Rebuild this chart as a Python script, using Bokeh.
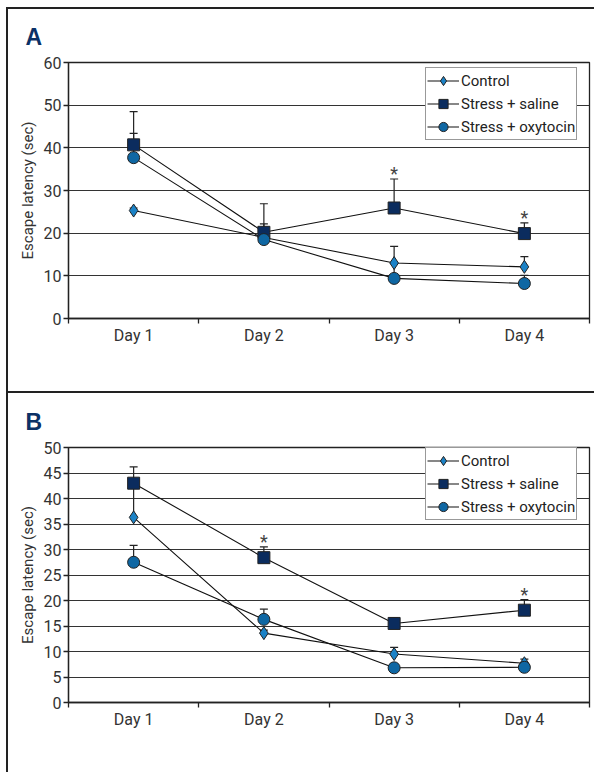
from bokeh.plotting import figure
from bokeh.models import (FixedTicker, Range1d, Legend, LegendItem, Whisker,
                          TeeHead, ColumnDataSource)
from bokeh.layouts import column
from bokeh.embed import file_html
from bokeh.resources import INLINE
from bokeh.core.properties import value

# ---------------- data ----------------
days = ["Day 1", "Day 2", "Day 3", "Day 4"]
series_names = ["Control", "Stress + saline", "Stress + oxytocin"]

# Panel A
control_A = [25.3, 19.0, 13.0, 12.1]
control_A_err = [0.6, 1.2, 3.9, 2.4]
saline_A = [40.7, 20.2, 25.9, 19.9]
saline_A_err = [7.8, 6.7, 6.8, 2.5]
oxytocin_A = [37.7, 18.5, 9.4, 8.2]
oxytocin_A_err = [5.7, 3.7, 3.5, 1.9]
signif_A = ["Day 3", "Day 4"]
yticks_A = [0, 10, 20, 30, 40, 50, 60]

# Panel B
control_B = [36.3, 13.6, 9.5, 7.7]
control_B_err = [6.4, 0.6, 1.3, 0.8]
saline_B = [43.0, 28.4, 15.5, 18.1]
saline_B_err = [3.2, 2.1, 1.1, 2.1]
oxytocin_B = [27.5, 16.3, 6.8, 6.9]
oxytocin_B_err = [3.3, 2.0, 0.5, 0.6]
signif_B = ["Day 2", "Day 4"]
yticks_B = [0, 5, 10, 15, 20, 25, 30, 35, 40, 45, 50]

# ---------------- style ----------------
FONT = "Roboto"
DARK = "#222222"
COLORS = ["#1b82c6", "#0b2c5e", "#0f67a3"]
MARKERS = ["diamond", "square", "circle"]
SIZES = [13, 12, 12]
W = 594


def make_panel(letter, ctrl, ctrl_e, sal, sal_e, oxy, oxy_e, signif, yticks,
               height, top, bottom, legend_loc, shadow, title_standoff):
    xs = list(range(1, len(days) + 1))
    p = figure(width=W, height=height, output_backend="svg", toolbar_location=None,
               x_range=Range1d(0.5, len(days) + 0.5),
               y_range=Range1d(yticks[0], yticks[-1]),
               min_border_left=68, min_border_right=5,
               min_border_top=top, min_border_bottom=bottom)
    p.border_fill_color = None
    p.background_fill_color = "white"
    p.outline_line_color = DARK
    p.outline_line_width = 1.3
    p.styles = {"box-shadow": shadow}

    p.title.text = letter
    p.title.text_font = "Liberation Sans"
    p.title.text_font_size = "23px"
    p.title.text_font_style = "bold"
    p.title.text_color = "#0b3166"
    p.title.align = "left"
    p.title.offset = -43
    p.title.standoff = title_standoff

    # axes
    p.xaxis.ticker = FixedTicker(ticks=xs, minor_ticks=[x - 0.5 for x in xs] + [xs[-1] + 0.5])
    p.xaxis.major_label_overrides = {x: d for x, d in zip(xs, days)}
    p.xaxis.major_tick_out = 0
    p.xaxis.major_tick_in = 0
    p.xaxis.minor_tick_out = 5
    p.xaxis.minor_tick_in = 0
    p.xaxis.minor_tick_line_color = DARK
    p.xaxis.minor_tick_line_width = 1.3
    p.xaxis.major_label_standoff = 2

    p.yaxis.ticker = FixedTicker(ticks=yticks)
    p.yaxis.major_tick_out = 5
    p.yaxis.major_tick_in = 0
    p.yaxis.minor_tick_line_color = None
    p.yaxis.major_label_standoff = 2
    p.yaxis.axis_label = "Escape latency (sec)"
    p.yaxis.axis_label_text_font = FONT
    p.yaxis.axis_label_text_font_size = "15px"
    p.yaxis.axis_label_text_font_style = "normal"
    p.yaxis.axis_label_text_color = "#333333"
    p.yaxis.axis_label_standoff = 4

    for ax in (p.xaxis, p.yaxis):
        ax.axis_line_color = DARK
        ax.axis_line_width = 1.3
        ax.major_tick_line_color = DARK
        ax.major_tick_line_width = 1.3
        ax.major_label_text_font = FONT
        ax.major_label_text_font_size = "16px"
        ax.major_label_text_color = "#333333"

    p.xgrid.visible = False
    p.ygrid.grid_line_color = "#333333"
    p.ygrid.grid_line_width = 1.2

    data = [(ctrl, ctrl_e), (sal, sal_e), (oxy, oxy_e)]

    # error bars (upward only)
    for vals, errs in data:
        src = ColumnDataSource(dict(x=xs, lower=vals,
                                    upper=[v + e for v, e in zip(vals, errs)]))
        wk = Whisker(base="x", lower="lower", upper="upper", source=src,
                     lower_head=None,
                     upper_head=TeeHead(size=8, line_color=DARK, line_width=1.2),
                     line_color=DARK, line_width=1.2, level="underlay")
        p.add_layout(wk)

    # lines
    lines = []
    for vals, _ in data:
        lines.append(p.line(xs, vals, line_color="#111111", line_width=1.1))

    # markers
    marks = []
    for (vals, _), c, m, s in zip(data, COLORS, MARKERS, SIZES):
        marks.append(p.scatter(xs, vals, marker=m, size=s, fill_color=c,
                               line_color=DARK, line_width=1))

    # significance asterisks above saline error bars
    sx = [days.index(d) + 1 for d in signif]
    sy = [sal[days.index(d)] + sal_e[days.index(d)] for d in signif]
    p.text(sx, sy, text=["*"] * len(sx), text_font=value(FONT),
           text_font_size="18px", text_color="#444444", text_align="center",
           text_baseline="alphabetic", y_offset=-5)

    items = [LegendItem(label=n, renderers=[l, mk])
             for n, l, mk in zip(series_names, lines, marks)]
    leg = Legend(items=items, location=legend_loc, margin=0, padding=1,
                 spacing=0, glyph_width=32, glyph_height=23, label_height=23,
                 label_standoff=2, border_line_color="#333333",
                 border_line_width=1.2, background_fill_color="white",
                 background_fill_alpha=1.0, label_text_font=FONT,
                 label_text_font_size="15px", label_text_color="#222222")
    p.add_layout(leg)
    return p


shadow_A = ("inset 6px 0 0 0 white, inset 0 7px 0 0 white, "
            "inset 8px 0 0 0 #222, inset 0 9px 0 0 #222")
shadow_B = "inset 6px 0 0 0 white, inset 8px 0 0 0 #222, inset 0 2px 0 0 #222"

pA = make_panel("A", control_A, control_A_err, saline_A, saline_A_err,
                oxytocin_A, oxytocin_A_err, signif_A, yticks_A,
                height=391, top=62, bottom=73, legend_loc=(357, 178),
                shadow=shadow_A, title_standoff=25)
pB = make_panel("B", control_B, control_B_err, saline_B, saline_B_err,
                oxytocin_B, oxytocin_B_err, signif_B, yticks_B,
                height=381, top=56, bottom=70, legend_loc=(357, 182),
                shadow=shadow_B, title_standoff=26)

layout = column(pA, pB, spacing=0)
open("out.html", "w").write(file_html(layout, INLINE))
